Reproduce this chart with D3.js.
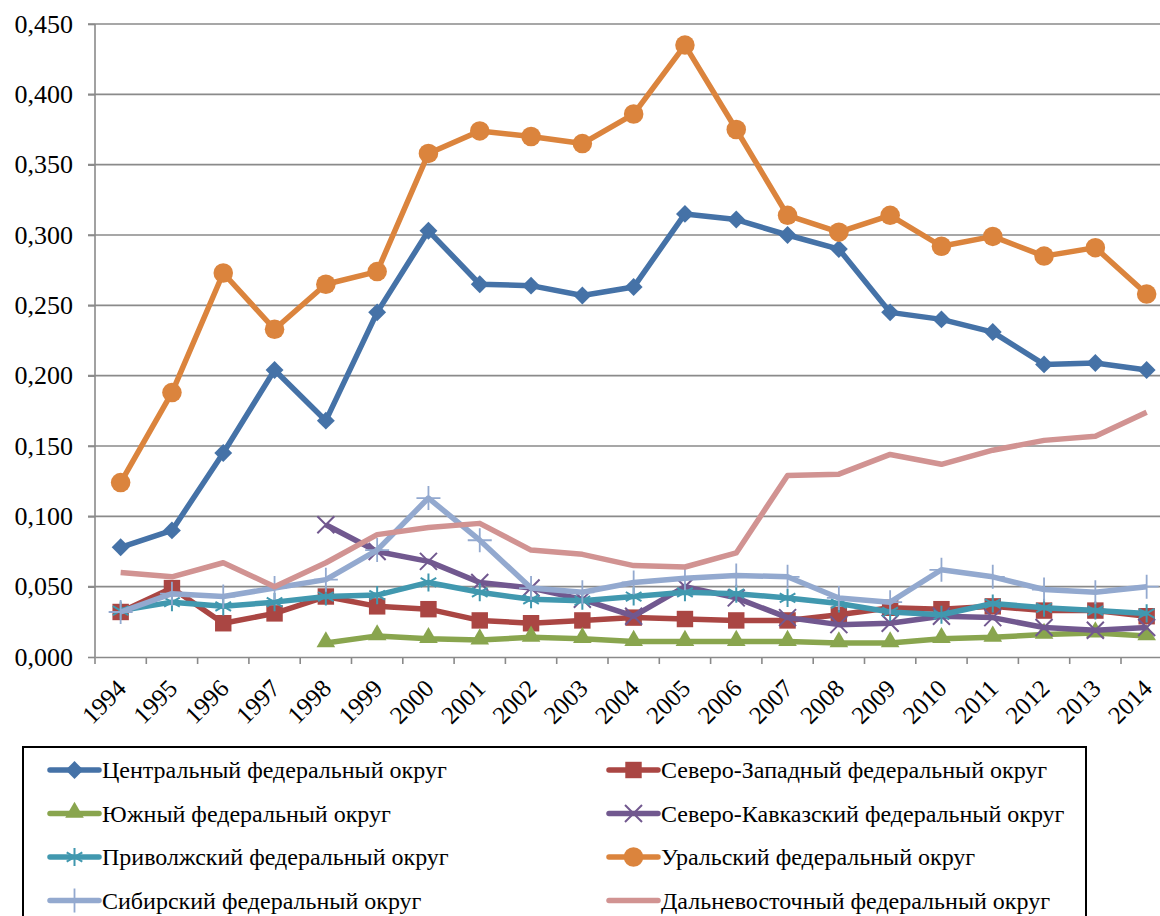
<!DOCTYPE html>
<html>
<head>
<meta charset="utf-8">
<script src="https://cdn.jsdelivr.net/npm/d3@7"></script>
<style>
  body { margin: 0; background: #fff; }
  svg text { font-family: "Liberation Serif", "Times New Roman", Tinos, "DejaVu Serif", "Noto Serif", serif !important; }
</style>
</head>
<body>
<div id="chart"></div>
<script>
// years on the x axis
const years = ["1994","1995","1996","1997","1998","1999","2000","2001","2002","2003","2004",
  "2005","2006","2007","2008","2009","2010","2011","2012","2013","2014"];

const yTicks = [0, 0.05, 0.1, 0.15, 0.2, 0.25, 0.3, 0.35, 0.4, 0.45];

// series values (null = no data)
const central = [0.078,0.090,0.145,0.204,0.168,0.245,0.303,0.265,0.264,0.257,0.263,0.315,0.311,0.300,0.290,0.245,0.240,0.231,0.208,0.209,0.204];
const northWest = [0.032,0.049,0.024,0.031,0.043,0.036,0.034,0.026,0.024,0.026,0.028,0.027,0.026,0.026,0.030,0.035,0.034,0.036,0.033,0.033,0.029];
const south = [null,null,null,null,0.010,0.015,0.013,0.012,0.014,0.013,0.011,0.011,0.011,0.011,0.010,0.010,0.013,0.014,0.016,0.017,0.015];
const northCaucasus = [null,null,null,null,0.094,0.075,0.068,0.053,0.049,0.041,0.029,0.050,0.042,0.028,0.023,0.024,0.029,0.028,0.021,0.019,0.021];
const volga = [0.033,0.039,0.036,0.039,0.043,0.044,0.053,0.046,0.041,0.040,0.043,0.046,0.045,0.042,0.038,0.032,0.030,0.038,0.035,0.033,0.031];
const ural = [0.124,0.188,0.273,0.233,0.265,0.274,0.358,0.374,0.370,0.365,0.386,0.435,0.375,0.314,0.302,0.314,0.292,0.299,0.285,0.291,0.258];
const siberian = [0.032,0.045,0.043,0.049,0.055,0.076,0.113,0.083,0.049,0.046,0.053,0.056,0.058,0.057,0.042,0.039,0.062,0.057,0.048,0.046,0.050];
const farEast = [0.060,0.057,0.067,0.050,0.067,0.087,0.092,0.095,0.076,0.073,0.065,0.064,0.074,0.129,0.130,0.144,0.137,0.147,0.154,0.157,0.174];

const series = [
  {name: "Центральный федеральный округ", values: central, color: "#4572A7", marker: "diamond"},
  {name: "Северо-Западный федеральный округ", values: northWest, color: "#AA4643", marker: "square"},
  {name: "Южный федеральный округ", values: south, color: "#89A54E", marker: "triangle"},
  {name: "Северо-Кавказский федеральный округ", values: northCaucasus, color: "#71588F", marker: "times"},
  {name: "Приволжский федеральный округ", values: volga, color: "#4198AF", marker: "asterisk"},
  {name: "Уральский федеральный округ", values: ural, color: "#DB843D", marker: "circle"},
  {name: "Сибирский федеральный округ", values: siberian, color: "#93A9CF", marker: "plus"},
  {name: "Дальневосточный федеральный округ", values: farEast, color: "#D19392", marker: null}
];

const width = 1160, height = 916;
const plot = {left: 95, top: 24, bottom: 657, band: 51.3};

const svg = d3.select("#chart").append("svg")
  .attr("width", width)
  .attr("height", height);

const x = d3.scaleBand()
  .domain(years)
  .range([plot.left, plot.left + plot.band * years.length]);

const y = d3.scaleLinear()
  .domain([0, 0.45])
  .range([plot.bottom, plot.top]);

const ru = d3.formatLocale({decimal: ",", thousands: " ", grouping: [3], currency: ["", ""]});
const fmt = ru.format(".3f");

// gridlines
svg.append("g")
  .selectAll("line")
  .data(yTicks.slice(1))
  .enter().append("line")
  .attr("x1", plot.left - 7).attr("x2", width)
  .attr("y1", d => y(d)).attr("y2", d => y(d))
  .attr("stroke", "#8a8a8a")
  .attr("stroke-width", 1.6);

// y axis
const yAxis = svg.append("g")
  .attr("transform", "translate(" + plot.left + ",0)")
  .call(d3.axisLeft(y).tickValues(yTicks).tickFormat(fmt).tickSize(7).tickPadding(15));
yAxis.attr("font-family", null).attr("font-size", null);
yAxis.selectAll("line, path").attr("stroke", "#8a8a8a").attr("stroke-width", 1.6);
yAxis.select(".domain").attr("d", "M0," + plot.top + "V" + plot.bottom);
yAxis.selectAll("text").attr("font-size", 26).attr("fill", "#000");

// x axis
const xAxis = svg.append("g")
  .attr("transform", "translate(0," + plot.bottom + ")")
  .call(d3.axisBottom(x).tickSize(0).tickFormat(""));
xAxis.select(".domain").attr("stroke", "#8a8a8a").attr("stroke-width", 1.6);
xAxis.selectAll(".tick").remove();

// ticks between categories
svg.append("g")
  .selectAll("line")
  .data(years.concat(["end"]))
  .enter().append("line")
  .attr("x1", (d, i) => plot.left + i * x.step())
  .attr("x2", (d, i) => plot.left + i * x.step())
  .attr("y1", plot.bottom).attr("y2", plot.bottom + 7)
  .attr("stroke", "#8a8a8a")
  .attr("stroke-width", 1.6);

// rotated year labels
svg.append("g")
  .selectAll("text")
  .data(years)
  .enter().append("text")
  .attr("transform", d => "translate(" + (x(d) + x.bandwidth() / 2 + 7) + "," + (plot.bottom + 33) + ") rotate(-45)")
  .attr("text-anchor", "end")
  .attr("font-size", 25)
  .attr("fill", "#000")
  .text(d => d);

const cx = d => x(d) + x.bandwidth() / 2;

function drawMarker(sel, marker, color) {
  if (marker === "diamond") {
    sel.append("path").attr("d", d3.symbol(d3.symbolSquare, 160)()).attr("transform", "rotate(45)").attr("fill", color);
  } else if (marker === "square") {
    sel.append("path").attr("d", d3.symbol(d3.symbolSquare, 270)()).attr("fill", color);
  } else if (marker === "triangle") {
    sel.append("path").attr("d", d3.symbol(d3.symbolTriangle, 150)()).attr("transform", "translate(0,-1)").attr("fill", color);
  } else if (marker === "circle") {
    sel.append("path").attr("d", d3.symbol(d3.symbolCircle, 300)()).attr("fill", color);
  } else if (marker === "times") {
    sel.append("path").attr("d", d3.symbol(d3.symbolTimes, 190)()).attr("fill", "none").attr("stroke", color).attr("stroke-width", 2);
  } else if (marker === "asterisk") {
    sel.append("path").attr("d", d3.symbol(d3.symbolAsterisk, 230)()).attr("fill", "none").attr("stroke", color).attr("stroke-width", 2);
  } else if (marker === "plus") {
    sel.append("path").attr("d", d3.symbol(d3.symbolPlus, 190)()).attr("fill", "none").attr("stroke", color).attr("stroke-width", 1.8);
  }
}

const line = d3.line()
  .defined(d => d.v !== null)
  .x(d => cx(d.year))
  .y(d => y(d.v));

series.forEach(s => {
  const pts = years.map((yr, i) => ({year: yr, v: s.values[i]}));
  const g = svg.append("g");
  g.append("path")
    .datum(pts)
    .attr("d", line)
    .attr("fill", "none")
    .attr("stroke", s.color)
    .attr("stroke-width", 5.5)
    .attr("stroke-linejoin", "round");
  if (s.marker) {
    g.selectAll(".m")
      .data(pts.filter(d => d.v !== null))
      .enter().append("g")
      .attr("class", "m")
      .attr("transform", d => "translate(" + cx(d.year) + "," + y(d.v) + ")")
      .each(function() { drawMarker(d3.select(this), s.marker, s.color); });
  }
});

// legend
const legend = svg.append("g");
legend.append("rect")
  .attr("x", 23).attr("y", 747)
  .attr("width", 1063).attr("height", 200)
  .attr("fill", "#fff")
  .attr("stroke", "#000")
  .attr("stroke-width", 2);

const legendCols = [50, 609];
const item = legend.selectAll(".item")
  .data(series)
  .enter().append("g")
  .attr("class", "item")
  .attr("transform", (d, i) => "translate(" + legendCols[i % 2] + "," + (770 + Math.floor(i / 2) * 43.5) + ")");

item.append("line")
  .attr("x1", 0).attr("x2", 49)
  .attr("stroke", d => d.color)
  .attr("stroke-width", 5.5)
  .attr("stroke-linecap", "round");

item.each(function(d) {
  if (d.marker) {
    const m = d3.select(this).append("g").attr("transform", "translate(24.5,0)");
    drawMarker(m, d.marker, d.color);
  }
});

item.append("text")
  .attr("x", 52)
  .attr("dy", "0.35em")
  .attr("font-size", 24)
  .attr("fill", "#000")
  .text(d => d.name);
</script>
</body>
</html>
